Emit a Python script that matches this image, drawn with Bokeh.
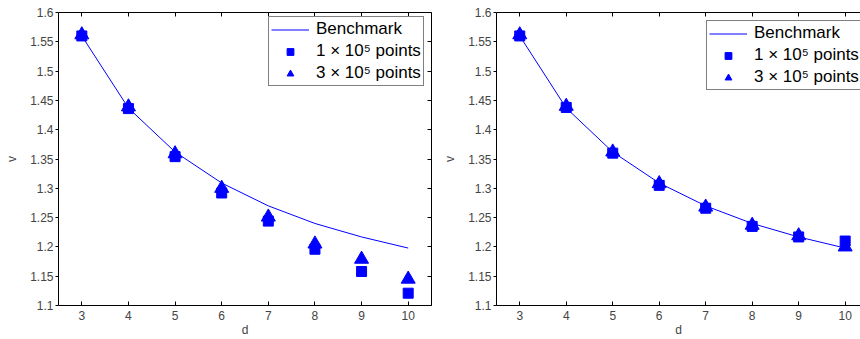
from bokeh.plotting import figure
from bokeh.layouts import row
from bokeh.models import LinearAxis, FixedTicker, Range1d, Legend, LegendItem
from bokeh.embed import file_html
from bokeh.resources import INLINE

# ---- data ----
d = [3, 4, 5, 6, 7, 8, 9, 10]
benchmark = [1.560, 1.437, 1.362, 1.309, 1.270, 1.240, 1.217, 1.198]
left_1e5 = [1.560, 1.436, 1.354, 1.292, 1.244, 1.196, 1.158, 1.121]
left_3e5 = [1.562, 1.439, 1.359, 1.300, 1.251, 1.205, 1.179, 1.145]
right_1e5 = [1.560, 1.438, 1.360, 1.305, 1.266, 1.235, 1.217, 1.210]
right_3e5 = [1.562, 1.440, 1.362, 1.308, 1.268, 1.237, 1.219, 1.200]

x_ticks = [3, 4, 5, 6, 7, 8, 9, 10]
y_ticks = [1.1, 1.15, 1.2, 1.25, 1.3, 1.35, 1.4, 1.45, 1.5, 1.55, 1.6]
y_tick_labels = ["1.1", "1.15", "1.2", "1.25", "1.3", "1.35", "1.4", "1.45", "1.5", "1.55", "1.6"]
legend_labels = ["Benchmark", "1 \u00d7 10\u2075 points", "3 \u00d7 10\u2075 points"]

FONT = "Liberation Sans"
BLUE = "#0000ff"


def tick_only_axis(ticks):
    ax = LinearAxis(ticker=FixedTicker(ticks=ticks))
    ax.major_label_text_color = None
    ax.major_label_text_font_size = "1px"
    ax.major_label_standoff = 0
    ax.major_tick_in = 4
    ax.major_tick_out = 0
    ax.minor_tick_line_color = None
    ax.axis_line_color = "black"
    return ax


def make_plot(width, left_border, right_border, x_end, sq, tri, draw_right, legend_loc):
    p = figure(width=width, height=339, output_backend="svg", toolbar_location=None,
               x_range=Range1d(2.5, x_end), y_range=Range1d(1.1, 1.6),
               min_border_left=left_border, min_border_right=right_border,
               min_border_top=12, min_border_bottom=33)
    p.outline_line_color = None
    p.xgrid.visible = False
    p.ygrid.visible = False
    p.background_fill_color = "white"
    p.border_fill_color = "white"

    # bottom axis
    xa = p.xaxis[0]
    xa.ticker = FixedTicker(ticks=x_ticks)
    xa.axis_label = "d"
    xa.axis_label_text_font = FONT
    xa.axis_label_text_font_size = "12px"
    xa.axis_label_text_font_style = "normal"
    xa.axis_label_standoff = 0
    xa.major_label_text_font = FONT
    xa.major_label_text_font_size = "12px"
    xa.major_label_standoff = 5
    xa.major_tick_in = 4
    xa.major_tick_out = 0
    xa.minor_tick_line_color = None
    xa.axis_line_color = "black"

    # left axis
    ya = p.yaxis[0]
    ya.ticker = FixedTicker(ticks=y_ticks)
    ya.major_label_overrides = {t: s for t, s in zip(y_ticks, y_tick_labels)}
    ya.axis_label = "v"
    ya.axis_label_text_font = FONT
    ya.axis_label_text_font_size = "12px"
    ya.axis_label_text_font_style = "normal"
    ya.axis_label_standoff = 8
    ya.major_label_text_font = FONT
    ya.major_label_text_font_size = "12px"
    ya.major_label_standoff = 2
    ya.major_tick_in = 0
    ya.major_tick_out = 3
    ya.minor_tick_line_color = None
    ya.axis_line_color = "black"

    p.add_layout(tick_only_axis(x_ticks), "above")
    if draw_right:
        p.add_layout(tick_only_axis(y_ticks), "right")

    r_line = p.line(d, benchmark, line_color=BLUE, line_width=1)
    r_sq = p.scatter(d, sq, marker="square", size=10, fill_color=BLUE, line_color=BLUE)
    r_tri = p.scatter(d, tri, marker="triangle", size=14, fill_color=BLUE, line_color=BLUE)

    legend = Legend(items=[LegendItem(label=legend_labels[0], renderers=[r_line]),
                           LegendItem(label=legend_labels[1], renderers=[r_sq]),
                           LegendItem(label=legend_labels[2], renderers=[r_tri])],
                    location=legend_loc, orientation="vertical")
    legend.label_text_font = FONT
    legend.label_text_font_size = "17px"
    legend.label_text_color = "black"
    legend.glyph_width = 38
    legend.glyph_height = 17
    legend.label_height = 17
    legend.spacing = 2
    legend.padding = 2
    legend.margin = 0
    legend.label_standoff = 7
    legend.border_line_color = "black"
    legend.border_line_width = 1
    legend.background_fill_alpha = 1
    p.add_layout(legend, "center")
    return p


p1 = make_plot(440, 58, 9, 10.5, left_1e5, left_3e5, True, (210, 219))
p2 = make_plot(420, 53, 0, 10.33, right_1e5, right_3e5, False, (210, 215))

layout = row(p1, p2)
open("out.html", "w").write(file_html(layout, INLINE))
